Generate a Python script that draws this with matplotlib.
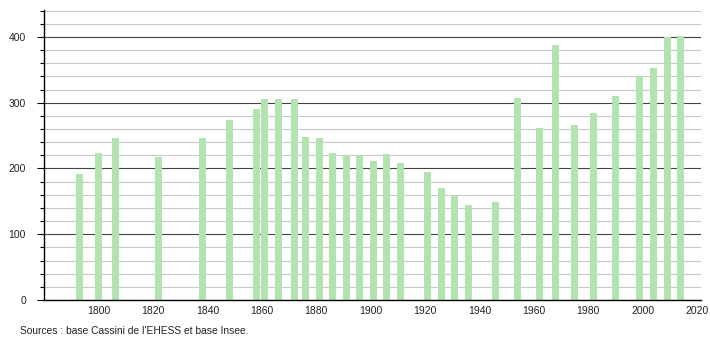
import matplotlib.pyplot as plt
import matplotlib.ticker as ticker

plt.rcParams["font.family"] = ["Liberation Sans", "DejaVu Sans"]

years = [1793, 1800, 1806, 1822, 1838, 1848, 1858, 1861, 1866, 1872,
         1876, 1881, 1886, 1891, 1896, 1901, 1906, 1911, 1921, 1926,
         1931, 1936, 1946, 1954, 1962, 1968, 1975, 1982, 1990, 1999,
         2004, 2009, 2014]
population = [192, 224, 247, 218, 247, 274, 290, 306, 306, 306,
              248, 246, 224, 220, 220, 211, 222, 208, 195, 170,
              159, 144, 149, 307, 262, 388, 266, 284, 310, 341,
              353, 400, 402]
x_ticks = [1800, 1820, 1840, 1860, 1880, 1900, 1920, 1940, 1960, 1980, 2000, 2020]
source_text = "Sources : base Cassini de l'EHESS et base Insee."

fig = plt.figure(figsize=(7.1, 3.4), dpi=100)
ax = fig.add_axes([44 / 710, 1 - 300 / 340, (701 - 44) / 710, 290 / 340])

ax.bar(years, population, width=2.57, color="#b3e4b0", zorder=3)

ax.set_xlim(1779.85, 2021.5)
ax.set_ylim(0, 441)

# y grid: dark every 100, light every 20
ax.yaxis.set_major_locator(ticker.MultipleLocator(100))
ax.yaxis.set_minor_locator(ticker.MultipleLocator(20))
ax.grid(axis="y", which="major", color="#444444", linewidth=0.8, zorder=1)
ax.grid(axis="y", which="minor", color="#c8c8c8", linewidth=0.8, zorder=0)
ax.set_axisbelow(True)

ax.set_xticks(x_ticks)
ax.tick_params(axis="x", length=0, pad=4, labelsize=7.5, colors="#222222")
ax.tick_params(axis="y", which="major", length=5, width=0.8, pad=8,
               labelsize=7.5, colors="#222222")
ax.tick_params(axis="y", which="minor", length=3, width=0.8)
ax.tick_params(axis="both", color="black")

for side in ["top", "right"]:
    ax.spines[side].set_visible(False)
for side in ["left", "bottom"]:
    ax.spines[side].set_linewidth(1.0)
    ax.spines[side].set_color("black")
    ax.spines[side].set_zorder(4)

fig.text(20 / 710, 1 - 331 / 340, source_text, fontsize=7.4, color="#222222",
         va="center", ha="left")

fig.savefig("out.png", dpi=100)
